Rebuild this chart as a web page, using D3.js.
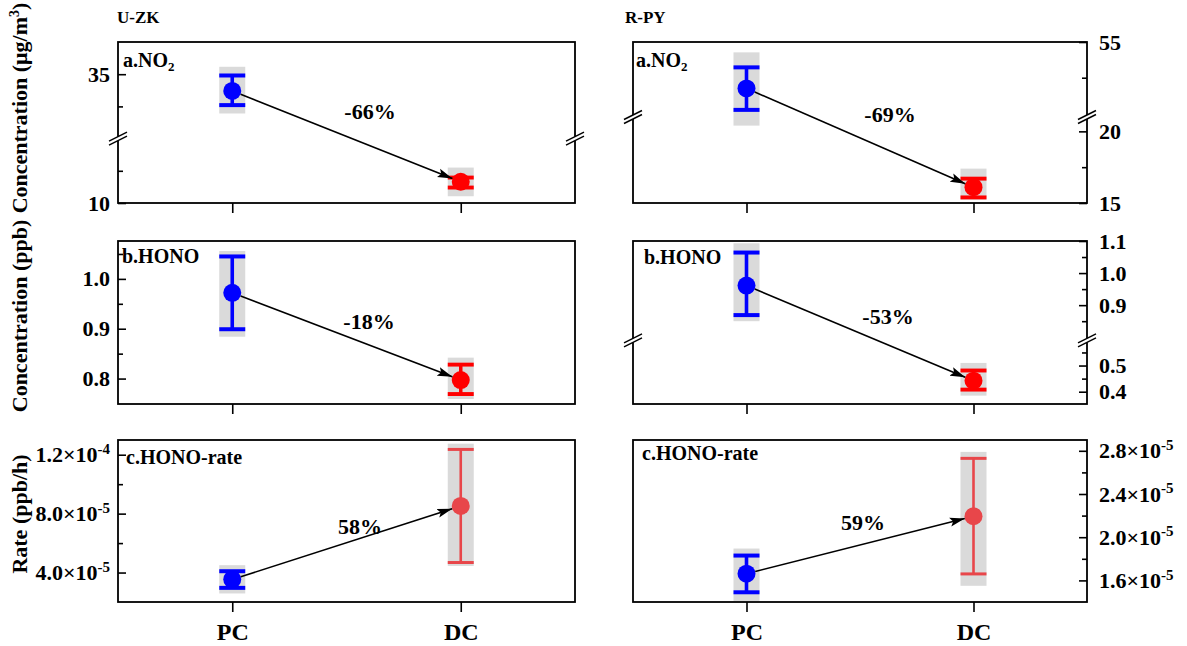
<!DOCTYPE html>
<html><head><meta charset="utf-8">
<script src="https://cdn.jsdelivr.net/npm/d3@7"></script>
<style>
body{margin:0;background:#fff}
svg{display:block}
svg text{font-family:"Liberation Serif","Times New Roman",serif !important;font-weight:bold !important;fill:#000}
</style>
</head><body>
<svg id="chart" width="1187" height="646"></svg>
<script>
// ---------------- DATA ----------------
const categories = ["PC", "DC"];
const sites = ["U-ZK", "R-PY"];
const percentLabels = ["-66%", "-69%", "-18%", "-53%", "58%", "59%"];

// U-ZK NO2 (ug/m3)
const uzkNO2Mean = [32.4, 13.3];
const uzkNO2Err  = [[30.2, 34.8], [12.4, 13.95]];
const uzkNO2Box  = [[28.9, 36.15], [11.05, 15.5]];
const uzkNO2Seg  = [[10, 20], [25, 40]];
const uzkNO2Ticks = [10, 35];
const uzkNO2Minor = [15, 30];

// R-PY NO2
const rpyNO2Mean = [42.0, 16.1];
const rpyNO2Err  = [[36.0, 47.9], [15.39, 16.7]];
const rpyNO2Box  = [[20.4, 52.1], [15.23, 17.4]];
const rpyNO2Seg  = [[15, 21], [34, 55]];
const rpyNO2Ticks = [15, 20, 55];
const rpyNO2Minor = [17.5, 45];

// U-ZK HONO (ppb)
const uzkHONOMean = [0.972, 0.797];
const uzkHONOErr  = [[0.899, 1.045], [0.769, 0.828]];
const uzkHONOBox  = [[0.884, 1.056], [0.759, 0.842]];
const uzkHONOSeg  = [[0.749, 1.076]];
const uzkHONOTicks = [0.8, 0.9, 1.0];
const uzkHONOMinor = [0.85, 0.95, 1.05];

// R-PY HONO
const rpyHONOMean = [0.961, 0.442];
const rpyHONOErr  = [[0.869, 1.064], [0.408, 0.481]];
const rpyHONOBox  = [[0.85, 1.093], [0.385, 0.51]];
const rpyHONOSeg  = [[0.353, 0.596], [0.79, 1.1]];
const rpyHONOTicks = [0.4, 0.5, 0.9, 1.0, 1.1];
const rpyHONOMinor = [0.45, 0.55, 0.85, 0.95, 1.05];

// U-ZK HONO rate (ppb/h)
const uzkRateMean = [3.53e-5, 8.52e-5];
const uzkRateErr  = [[2.96e-5, 4.09e-5], [4.68e-5, 1.236e-4]];
const uzkRateBox  = [[2.58e-5, 4.5e-5], [4.45e-5, 1.275e-4]];
const uzkRateSeg  = [[2.0e-5, 1.3e-4]];
const uzkRateTicks = [4e-5, 8e-5, 1.2e-4];
const uzkRateMinor = [6e-5, 1e-4];

// R-PY HONO rate
const rpyRateMean = [1.662e-5, 2.194e-5];
const rpyRateErr  = [[1.49e-5, 1.83e-5], [1.66e-5, 2.73e-5]];
const rpyRateBox  = [[1.41e-5, 1.895e-5], [1.55e-5, 2.79e-5]];
const rpyRateSeg  = [[1.4e-5, 2.9e-5]];
const rpyRateTicks = [1.6e-5, 2.0e-5, 2.4e-5, 2.8e-5];
const rpyRateMinor = [1.8e-5, 2.2e-5, 2.6e-5];

// ---------------- LAYOUT ----------------
const svg = d3.select("#chart");
const BLUE = "#0000ff", RED = "#ff0000", LRED = "#e8464a", GREY = "#dadada";
const cols = [{x0: 118, x1: 575}, {x0: 633, x1: 1087}];
const rows = [{y0: 42, y1: 203}, {y0: 241, y1: 404}, {y0: 440, y1: 602}];

const panels = [
  {c:0,r:0, mean:uzkNO2Mean, err:uzkNO2Err, box:uzkNO2Box, seg:uzkNO2Seg, frac:0.4, ticks:uzkNO2Ticks, minor:uzkNO2Minor, fmt:"int", lab:["a.NO","2"], lx:123, ly:67, pct:percentLabels[0], px:370, py:119, dcCol:RED, dcW:3.5},
  {c:1,r:0, mean:rpyNO2Mean, err:rpyNO2Err, box:rpyNO2Box, seg:rpyNO2Seg, frac:0.534, ticks:rpyNO2Ticks, minor:rpyNO2Minor, fmt:"int", lab:["a.NO","2"], lx:636, ly:67, pct:percentLabels[1], px:890, py:122, dcCol:RED, dcW:3.5},
  {c:0,r:1, mean:uzkHONOMean, err:uzkHONOErr, box:uzkHONOBox, seg:uzkHONOSeg, frac:1, ticks:uzkHONOTicks, minor:uzkHONOMinor, fmt:"f1", lab:["b.HONO"], lx:122, ly:263, pct:percentLabels[2], px:369, py:329, dcCol:RED, dcW:3.5},
  {c:1,r:1, mean:rpyHONOMean, err:rpyHONOErr, box:rpyHONOBox, seg:rpyHONOSeg, frac:0.39, ticks:rpyHONOTicks, minor:rpyHONOMinor, fmt:"f1", lab:["b.HONO"], lx:644, ly:264, pct:percentLabels[3], px:888, py:324, dcCol:RED, dcW:3.5},
  {c:0,r:2, mean:uzkRateMean, err:uzkRateErr, box:uzkRateBox, seg:uzkRateSeg, frac:1, ticks:uzkRateTicks, minor:uzkRateMinor, fmt:"sci", lab:["c.HONO-rate"], lx:126, ly:464, pct:percentLabels[4], px:360, py:534, dcCol:LRED, dcW:2.6},
  {c:1,r:2, mean:rpyRateMean, err:rpyRateErr, box:rpyRateBox, seg:rpyRateSeg, frac:1, ticks:rpyRateTicks, minor:rpyRateMinor, fmt:"sci", lab:["c.HONO-rate"], lx:642, ly:460, pct:percentLabels[5], px:863, py:530, dcCol:LRED, dcW:2.6}
];

const defs = svg.append("defs");
defs.append("marker").attr("id","arrow").attr("markerUnits","userSpaceOnUse")
  .attr("markerWidth",16).attr("markerHeight",10).attr("refX",15).attr("refY",5).attr("orient","auto")
  .append("path").attr("d","M0,0.5 L15,5 L0,9.5 L3,5 Z").attr("fill","#000");

function makeY(p, y0, y1) {
  const h = y1 - y0;
  if (p.seg.length === 1) return d3.scaleLinear().domain(p.seg[0]).range([y1, y0]);
  const yb = y1 - p.frac * h;
  return d3.scaleLinear().domain([p.seg[0][0], p.seg[0][1], p.seg[1][0], p.seg[1][1]]).range([y1, yb, yb, y0]);
}

function breakMark(x, y) {
  const g = svg.append("g").attr("transform", `translate(${x},${y})`);
  g.append("polygon").attr("points","-9,2.5 9,-6.5 9,-2.5 -9,6.5").attr("fill","#fff");
  g.append("line").attr("x1",-9).attr("y1",2.5).attr("x2",9).attr("y2",-6.5).attr("stroke","#000").attr("stroke-width",1.5);
  g.append("line").attr("x1",-9).attr("y1",6.5).attr("x2",9).attr("y2",-2.5).attr("stroke","#000").attr("stroke-width",1.5);
}

function txt(sel, size) {
  return sel.attr("font-size", size).style("font-size", size + "px");
}

function fmtLabel(sel, fmt) {
  txt(sel, 22);
  sel.selectAll(".tick text").each(function(d) {
    const t = d3.select(this);
    t.text(null);
    txt(t, 22);
    if (fmt === "int") t.text(d3.format("d")(d));
    else if (fmt === "f1") t.text(d3.format(".1f")(d));
    else {
      const e = Math.floor(Math.log10(d) + 1e-9);
      const m = d / Math.pow(10, e);
      t.append("tspan").text(m.toFixed(1) + "×10");
      txt(t.append("tspan").attr("dy", "-0.55em"), 15).text("-" + Math.abs(e));
    }
  });
}

// site titles
txt(svg.append("text").attr("x", 117).attr("y", 23), 17).text(sites[0]);
txt(svg.append("text").attr("x", 625).attr("y", 23), 17).text(sites[1]);

// y titles
const yTitles = [
  {y: 108, parts: [["Concentration (μg/m", null], ["3", "sup"], [")", null]]},
  {y: 316, parts: [["Concentration (ppb)", null]]},
  {y: 514, parts: [["Rate (ppb/h)", null]]}
];
yTitles.forEach(t => {
  const tx = txt(svg.append("text").attr("transform", `translate(27,${t.y}) rotate(-90)`)
    .attr("text-anchor","middle"), 22);
  let prevSup = false;
  t.parts.forEach(([s, k]) => {
    if (k === "sup") { txt(tx.append("tspan").attr("dy","-0.55em"), 14).text(s); prevSup = true; }
    else { const ts = tx.append("tspan").text(s); if (prevSup) ts.attr("dy","0.35em"); prevSup = false; }
  });
});

panels.forEach(p => {
  const {x0, x1} = cols[p.c];
  const {y0, y1} = rows[p.r];
  const x = d3.scalePoint().domain(categories).range([x0, x1]).padding(0.5);
  const y = makeY(p, y0, y1);
  const left = p.c === 0;

  // box
  svg.append("rect").attr("x", x0).attr("y", y0).attr("width", x1 - x0).attr("height", y1 - y0)
    .attr("fill","none").attr("stroke","#000").attr("stroke-width",1.8);

  // y axis (major)
  const axMaj = (left ? d3.axisLeft(y) : d3.axisRight(y)).tickValues(p.ticks).tickSize(-8).tickPadding(left ? 8 : 12);
  const gMaj = svg.append("g").attr("transform", `translate(${left ? x0 : x1},0)`).call(axMaj);
  gMaj.select(".domain").remove();
  gMaj.selectAll(".tick line").attr("stroke-width",1.6);
  fmtLabel(gMaj, p.fmt);
  const axMin = (left ? d3.axisLeft(y) : d3.axisRight(y)).tickValues(p.minor).tickSize(-5).tickFormat("");
  const gMin = svg.append("g").attr("transform", `translate(${left ? x0 : x1},0)`).call(axMin);
  gMin.select(".domain").remove();
  gMin.selectAll(".tick line").attr("stroke-width",1.6);

  // x axis
  const axX = d3.axisBottom(x).tickSize(10).tickPadding(11);
  if (p.r !== 2) axX.tickFormat("");
  const gX = svg.append("g").attr("transform", `translate(0,${y1})`).call(axX);
  gX.select(".domain").remove();
  gX.selectAll(".tick line").attr("stroke-width",1.6);
  txt(gX, 24);
  txt(gX.selectAll(".tick text"), 24);

  // breaks
  if (p.seg.length > 1) {
    const yb = y1 - p.frac * (y1 - y0);
    breakMark(x0, yb);
    breakMark(x1, yb);
  }

  // panel label
  const lt = txt(svg.append("text").attr("x", p.lx).attr("y", p.ly), 20);
  lt.append("tspan").text(p.lab[0]);
  if (p.lab[1]) txt(lt.append("tspan").attr("dy","0.3em"), 13).text(p.lab[1]);

  // marks
  const R = 9, BW = 26, CW = 26;
  categories.forEach((cat, i) => {
    const cx = x(cat);
    const col = i === 0 ? BLUE : p.dcCol;
    const sw = i === 0 ? 3.6 : p.dcW;
    svg.append("rect").attr("x", cx - BW / 2).attr("width", BW)
      .attr("y", y(p.box[i][1])).attr("height", y(p.box[i][0]) - y(p.box[i][1])).attr("fill", GREY);
    svg.append("line").attr("x1", cx).attr("x2", cx).attr("y1", y(p.err[i][0])).attr("y2", y(p.err[i][1]))
      .attr("stroke", col).attr("stroke-width", sw);
    [0, 1].forEach(k => svg.append("line").attr("x1", cx - CW / 2).attr("x2", cx + CW / 2)
      .attr("y1", y(p.err[i][k])).attr("y2", y(p.err[i][k])).attr("stroke", col).attr("stroke-width", sw + 0.4));
    svg.append("circle").attr("cx", cx).attr("cy", y(p.mean[i])).attr("r", R).attr("fill", col);
  });

  // arrow
  const ax = x(categories[0]), ay = y(p.mean[0]);
  const bx = x(categories[1]), by = y(p.mean[1]);
  const L = Math.hypot(bx - ax, by - ay), ux = (bx - ax) / L, uy = (by - ay) / L;
  svg.append("line").attr("x1", ax + ux * R).attr("y1", ay + uy * R)
    .attr("x2", bx - ux * R).attr("y2", by - uy * R)
    .attr("stroke","#000").attr("stroke-width",1.6).attr("marker-end","url(#arrow)");

  // percent label
  txt(svg.append("text").attr("x", p.px).attr("y", p.py).attr("text-anchor","middle"), 22).text(p.pct);
});
</script>
</body></html>
